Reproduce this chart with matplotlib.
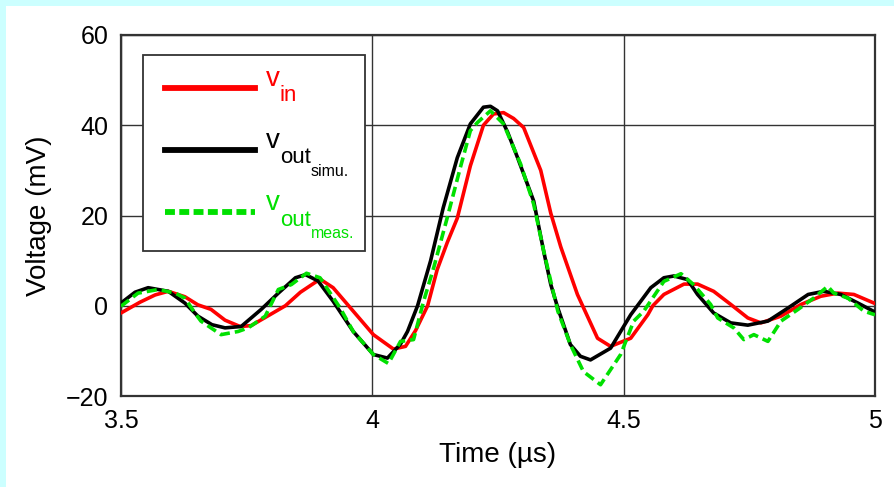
import matplotlib
matplotlib.use("Agg")
import matplotlib.pyplot as plt
from matplotlib.patches import Rectangle

plt.rcParams['font.family'] = ['Liberation Sans', 'DejaVu Sans']

# time in us, voltage in mV
t_in = [3.500, 3.538, 3.568, 3.594, 3.627, 3.653, 3.679, 3.707, 3.737, 3.759,
        3.793, 3.827, 3.857, 3.896, 3.922, 3.962, 4.002, 4.042, 4.066, 4.086,
        4.110, 4.129, 4.149, 4.169, 4.195, 4.221, 4.241, 4.261, 4.281, 4.301,
        4.335, 4.355, 4.375, 4.408, 4.448, 4.474, 4.514, 4.548, 4.558, 4.580,
        4.620, 4.647, 4.679, 4.713, 4.747, 4.773, 4.813, 4.853, 4.892, 4.926,
        4.958, 5.000]
v_in = [-1.6, 0.8, 2.4, 3.2, 2.0, 0.2, -0.8, -3.2, -4.6, -4.4,
        -2.2, 0.0, 3.0, 5.9, 4.0, -1.2, -6.4, -9.6, -9.0, -5.5,
        0.0, 8.0, 14.0, 19.4, 31.0, 40.0, 42.5, 42.8, 41.5, 39.5,
        30.0, 20.5, 13.0, 2.5, -7.2, -9.0, -7.2, -2.0, 0.0, 2.5,
        4.8, 4.8, 3.2, 0.3, -2.7, -3.8, -2.3, 0.3, 2.1, 2.8,
        2.5, 0.5]

t_simu = [3.500, 3.528, 3.554, 3.594, 3.627, 3.653, 3.681, 3.707, 3.739, 3.779,
          3.813, 3.847, 3.867, 3.892, 3.922, 3.962, 4.002, 4.030, 4.056, 4.070,
          4.090, 4.116, 4.141, 4.169, 4.195, 4.221, 4.235, 4.249, 4.269, 4.289,
          4.321, 4.341, 4.355, 4.369, 4.394, 4.414, 4.434, 4.474, 4.514, 4.554,
          4.580, 4.600, 4.627, 4.647, 4.679, 4.713, 4.747, 4.787, 4.827, 4.867,
          4.898, 4.932, 4.966, 5.000]
v_simu = [0.6, 3.0, 4.0, 3.2, 0.6, -2.3, -4.2, -4.9, -4.6, -0.8,
          2.8, 6.2, 6.9, 5.5, 1.0, -5.7, -10.8, -11.6, -8.5, -5.7,
          0.0, 10.0, 21.7, 32.8, 40.3, 44.0, 44.2, 43.2, 38.5, 32.8,
          23.2, 12.0, 4.7, -0.5, -8.6, -11.2, -12.0, -9.4, -2.0, 4.0,
          6.2, 6.6, 5.8, 2.5, -1.6, -3.8, -4.3, -3.4, -0.5, 2.5,
          3.2, 2.5, 0.6, -1.4]

t_meas = [3.500, 3.534, 3.574, 3.608, 3.627, 3.647, 3.659, 3.699, 3.733, 3.753,
          3.787, 3.813, 3.839, 3.869, 3.896, 3.936, 3.962, 4.002, 4.032, 4.056,
          4.082, 4.102, 4.122, 4.149, 4.175, 4.195, 4.209, 4.235, 4.261, 4.295,
          4.321, 4.341, 4.355, 4.369, 4.394, 4.420, 4.454, 4.494, 4.520, 4.540,
          4.580, 4.614, 4.639, 4.673, 4.687, 4.719, 4.739, 4.759, 4.787, 4.813,
          4.847, 4.878, 4.906, 4.918, 4.946, 4.978, 5.000]
v_meas = [-0.1, 2.8, 3.6, 2.8, 1.7, -1.6, -3.4, -6.4, -5.7, -4.9,
          -2.3, 3.6, 4.7, 7.2, 6.2, -0.5, -5.7, -10.8, -12.8, -7.9,
          -7.5, 1.0, 8.4, 19.5, 30.6, 38.8, 40.6, 43.2, 40.3, 31.4,
          22.5, 12.1, 5.4, -1.2, -8.6, -14.6, -17.5, -10.8, -3.4, -1.2,
          5.4, 7.1, 4.7, 0.3, -2.7, -4.9, -7.5, -6.4, -7.9, -3.4,
          -0.8, 1.7, 4.3, 2.8, 1.7, -1.2, -2.0]

x_ticks = [3.5, 4, 4.5, 5]
x_tick_labels = ['3.5', '4', '4.5', '5']
y_ticks = [-20, 0, 20, 40, 60]

# legend text: main letter, subscript, sub-subscript
leg_main = ['v', 'v', 'v']
leg_sub = ['in', 'out', 'out']
leg_subsub = ['', 'simu.', 'meas.']

RED = '#ff0000'
GREEN = '#00e000'
colors = [RED, 'black', GREEN]

fig = plt.figure(figsize=(8.94, 4.87), dpi=100, facecolor='#ccffff')
fig.patches.append(Rectangle((6 / 894, 0), 1, 481 / 487, transform=fig.transFigure,
                             facecolor='white', edgecolor='none', zorder=-10))
ax = fig.add_axes([121 / 894, 91 / 487, 754 / 894, 361 / 487])
ax.set_zorder(1)

l1, = ax.plot(t_in, v_in, color=RED, lw=2.6, zorder=3)
l2, = ax.plot(t_simu, v_simu, color='black', lw=2.6, zorder=4)
l3, = ax.plot(t_meas, v_meas, color=GREEN, lw=2.6, linestyle=(0, (2.8, 1.4)), zorder=5)

ax.set_xlim(3.5, 5)
ax.set_ylim(-20, 60)
ax.set_xticks(x_ticks)
ax.set_xticklabels(x_tick_labels)
ax.set_yticks(y_ticks)
ax.tick_params(length=0, labelsize=18, pad=9)
ax.grid(True, color='#333333', lw=1.0)
for s in ax.spines.values():
    s.set_color('#333333')
    s.set_linewidth(1.6)

ax.set_xlabel('Time (µs)', fontsize=20, labelpad=7)
ax.set_ylabel('Voltage (mV)', fontsize=20, labelpad=10)

# legend: frame + keys from matplotlib, labels drawn next to each key
leg = ax.legend([l1, l2, l3], ['', '', ''], loc='upper left', mode='expand',
                bbox_to_anchor=(0.029, 0.402, 0.295, 0.543), borderaxespad=0,
                fontsize=18, handlelength=3.6, handleheight=1.2,
                labelspacing=1.44, borderpad=0.9, fancybox=False,
                edgecolor='#333333', framealpha=1)
leg.get_frame().set_linewidth(1.3)
leg.set_zorder(6)
for ln in leg.get_lines():
    ln.set_linewidth(4.2)
leg.get_lines()[2].set_linestyle((0, (1.7, 0.75)))

for ln, c, a, b, d in zip(leg.get_lines(), colors, leg_main, leg_sub, leg_subsub):
    ax.annotate(a, xy=(1, 0.5), xycoords=ln, xytext=(7.5, 1.5),
                textcoords='offset points', ha='left', va='baseline',
                fontsize=20, color=c, zorder=7)
    ax.annotate(b, xy=(1, 0.5), xycoords=ln, xytext=(17.5, -9.5),
                textcoords='offset points', ha='left', va='baseline',
                fontsize=16, color=c, zorder=7)
    if d:
        ax.annotate(d, xy=(1, 0.5), xycoords=ln, xytext=(40, -18.5),
                    textcoords='offset points', ha='left', va='baseline',
                    fontsize=11.5, color=c, zorder=7)

fig.savefig('out.png', dpi=100, facecolor=fig.get_facecolor())
